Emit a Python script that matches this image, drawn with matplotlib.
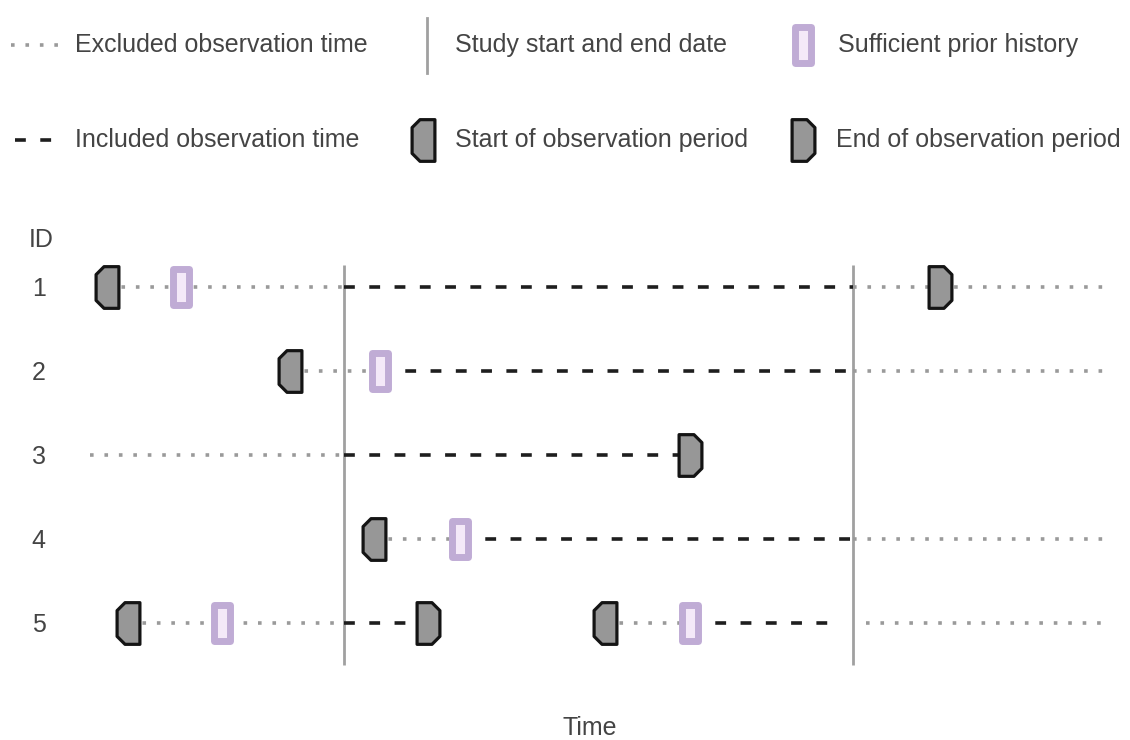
import matplotlib.pyplot as plt
from matplotlib.path import Path
from matplotlib.markers import MarkerStyle

plt.rcParams['font.family'] = ['Liberation Sans', 'DejaVu Sans']

# Data (time in arbitrary units)
ids = [1, 2, 3, 4, 5]
study_dates = [344, 853]

excluded = {
    1: [(107, 344), (853, 1110)],
    2: [(290, 380), (853, 1110)],
    3: [(90, 344)],
    4: [(374, 460), (853, 1110)],
    5: [(128, 344), (605, 690), (866, 1110)],
}
included = {
    1: [(344, 853)],
    2: [(380, 853)],
    3: [(344, 686)],
    4: [(460, 853)],
    5: [(344, 424), (690, 836)],
}
obs_start = {1: [107], 2: [290], 3: [], 4: [374], 5: [128, 605]}
obs_end = {1: [940], 2: [], 3: [690], 4: [], 5: [428]}
prior_history = {1: [181], 2: [380], 3: [], 4: [460], 5: [222, 690]}

# marker shapes
w, h, c = 11.5, 21, 8
start_path = Path([(w, h), (-w + c, h), (-w, h - c), (-w, -h + c), (-w + c, -h),
                   (w, -h), (w, h)], closed=True)
end_path = Path([(-w, h), (w - c, h), (w, h - c), (w, -h + c), (w - c, -h),
                 (-w, -h), (-w, h)], closed=True)
prior_path = Path([(-8, 18.5), (8, 18.5), (8, -18.5), (-8, -18.5), (-8, 18.5)], closed=True)

text_color = '#444444'
dot_color = '#9a9a9a'
dash_color = '#1e1e1e'
line_gray = '#a0a0a0'
fs = 18

dotted = dict(color=dot_color, lw=2.6, linestyle=(0, (1, 3)), dash_capstyle='butt')
dashed = dict(color=dash_color, lw=2.6, linestyle=(0, (3, 4)), dash_capstyle='butt')
start_mk = dict(marker=MarkerStyle(start_path, joinstyle='round'), ms=30,
                mfc='#979797', mec='#141414', mew=2.3, ls='none')
end_mk = dict(marker=MarkerStyle(end_path, joinstyle='round'), ms=30,
              mfc='#979797', mec='#141414', mew=2.3, ls='none')
prior_mk = dict(marker=prior_path, ms=26.6, mfc='#f4e9f8', mec='#c0acd5', mew=5, ls='none')

fig = plt.figure(figsize=(11.3, 7.4), dpi=100)

# main timeline axes (pixel rows: ID 1 at y=287, spacing 84)
ax = fig.add_axes([50 / 1130, 35 / 740, 1080 / 1130, 505 / 740])
ax.set_xlim(50, 1130)
ax.set_ylim(1 + (705 - 287) / 84, 1 + (200 - 287) / 84)

ax.vlines(study_dates, 0.74, 5.5, color=line_gray, lw=2, zorder=1)

for i in ids:
    for a, b in excluded[i]:
        ax.plot([a, b], [i, i], zorder=2, **dotted)
    for a, b in included[i]:
        ax.plot([a, b], [i, i], zorder=2, **dashed)
    if obs_start[i]:
        ax.plot(obs_start[i], [i] * len(obs_start[i]), zorder=4, **start_mk)
    if obs_end[i]:
        ax.plot(obs_end[i], [i] * len(obs_end[i]), zorder=4, **end_mk)
    if prior_history[i]:
        ax.plot(prior_history[i], [i] * len(prior_history[i]), zorder=4, **prior_mk)

ax.set_yticks(ids)
ax.set_yticklabels([str(i) for i in ids], fontsize=fs, color=text_color)
ax.tick_params(axis='y', length=0, pad=3)
ax.set_xticks([])
ax.set_xlabel('Time', fontsize=fs, color=text_color, labelpad=8)
for s in ax.spines.values():
    s.set_visible(False)
fig.text(41 / 1130, 1 - 240 / 740, 'ID', fontsize=fs, color=text_color, ha='center', va='center')

# legend drawn in its own axes
lg = fig.add_axes([0, 1 - 190 / 740, 1, 190 / 740])
lg.set_xlim(0, 1130)
lg.set_ylim(190, 0)
lg.axis('off')

r1, r2 = 45, 140
lg.plot([11, 60], [r1, r1], **dotted)
lg.text(75, r1, 'Excluded observation time', fontsize=fs, color=text_color, va='center')
lg.plot([15, 52], [r2, r2], **dashed)
lg.text(75, r2, 'Included observation time', fontsize=fs, color=text_color, va='center')

lg.plot([427, 427], [18, 73], color=line_gray, lw=2)
lg.text(455, r1, 'Study start and end date', fontsize=fs, color=text_color, va='center')
lg.plot([423], [r2], **start_mk)
lg.text(455, r2, 'Start of observation period', fontsize=fs, color=text_color, va='center')

lg.plot([803], [r1], **prior_mk)
lg.text(838, r1, 'Sufficient prior history', fontsize=fs, color=text_color, va='center')
lg.plot([803], [r2], **end_mk)
lg.text(836, r2, 'End of observation period', fontsize=fs, color=text_color, va='center')

fig.savefig('out.png', dpi=100, facecolor='white')
